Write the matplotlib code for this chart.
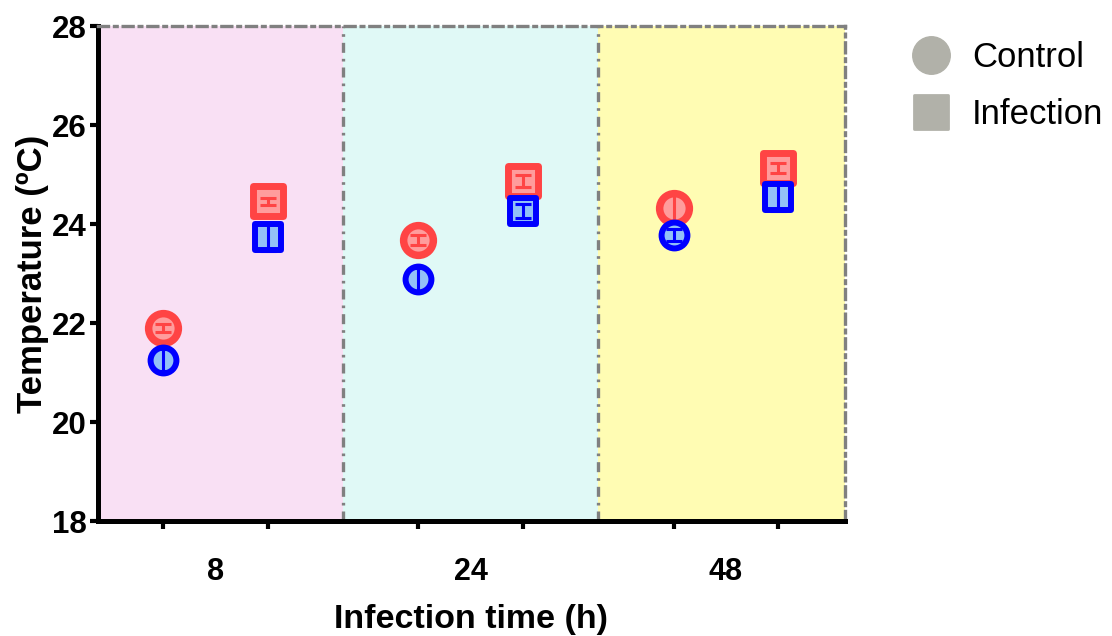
import matplotlib.pyplot as plt
from matplotlib.lines import Line2D
from matplotlib.markers import MarkerStyle

plt.rcParams['font.family'] = ['Liberation Sans', 'DejaVu Sans']

times = ['8', '24', '48']
# red group
red_control = [21.90, 23.68, 24.32]
red_control_err = [0.08, 0.10, 0.28]
red_infection = [24.46, 24.87, 25.13]
red_infection_err = [0.07, 0.12, 0.10]
# blue group
blue_control = [21.25, 22.88, 23.77]
blue_control_err = [0.22, 0.24, 0.12]
blue_infection = [23.74, 24.27, 24.55]
blue_infection_err = [0.28, 0.14, 0.28]

shift = 0.205
xc = [i - shift for i in range(len(times))]
xi = [i + shift for i in range(len(times))]

fig = plt.figure(figsize=(11.12, 6.36), dpi=100)
ax = fig.add_axes([0.0881, 0.1808, 0.6718, 0.7783])

bands = ['#f9e0f4', '#e0f9f6', '#fffcb3']
edges = [-0.46, 0.5, 1.5, 2.466]
for k in range(3):
    ax.axvspan(edges[k], edges[k + 1], color=bands[k], lw=0, zorder=0)
dash = (0, (3.0, 1.8, 0.8, 1.8))
for xb in [0.5, 1.5]:
    ax.axvline(xb, color='#808080', lw=2.4, ls=dash, zorder=1)

sq = MarkerStyle('s', joinstyle='round')

def draw(x, y, err, marker, ms, mew, edge, face, z):
    ax.plot(x, y, ls='none', marker=marker, ms=ms, mew=mew, mec=edge, mfc=face, zorder=z)
    ax.errorbar(x, y, yerr=err, fmt='none', ecolor=edge, elinewidth=2.2,
                capsize=6, capthick=2.2, zorder=z + 0.5)

draw(xc, red_control, red_control_err, 'o', 21.4, 5.4, '#ff4444', '#ff9c9c', 3)
draw(xi, red_infection, red_infection_err, sq, 21.8, 5.0, '#ff4444', '#ff9c9c', 3)
draw(xc, blue_control, blue_control_err, 'o', 18.6, 4.3, '#0000ff', '#93c1f7', 5)
draw(xi, blue_infection, blue_infection_err, sq, 18.2, 4.3, '#0000ff', '#93c1f7', 5)

ax.set_xlim(edges[0], edges[-1])
ax.set_ylim(18, 28)
ax.set_yticks([18, 20, 22, 24, 26, 28])
ax.set_xticks(range(len(times)))
ax.set_xticklabels(times)
ax.set_xticks(xc + xi, minor=True)
ax.tick_params(axis='x', which='major', length=0, pad=26, labelsize=22)
ax.tick_params(axis='x', which='minor', length=6, width=3, color='black')
ax.tick_params(axis='y', length=6, width=3, pad=2, labelsize=22.5)
for lab in ax.get_xticklabels() + ax.get_yticklabels():
    lab.set_fontweight('bold')

for s in ['left', 'bottom']:
    ax.spines[s].set_linewidth(3.6)
    ax.spines[s].set_color('black')
for s in ['top', 'right']:
    ax.spines[s].set_linewidth(2.4)
    ax.spines[s].set_color('#808080')
    ax.spines[s].set_linestyle(dash)

ax.set_xlabel('Infection time (h)', fontsize=24.5, fontweight='bold', labelpad=12)
ax.set_ylabel('Temperature (ºC)', fontsize=25, fontweight='bold', labelpad=2)

handles = [
    Line2D([], [], ls='none', marker='o', ms=27, mfc='#b1b1a9', mec='#b1b1a9'),
    Line2D([], [], ls='none', marker=MarkerStyle('s', joinstyle='round'), ms=24,
           mfc='#b1b1a9', mec='#b1b1a9', mew=2),
]
fig.legend(handles, ['Control', 'Infection'], loc='upper left',
           bbox_to_anchor=(0.79, 0.985), frameon=False, fontsize=25,
           handletextpad=0.6, labelspacing=0.7, handlelength=1.2)

fig.savefig('out.png', dpi=100)
